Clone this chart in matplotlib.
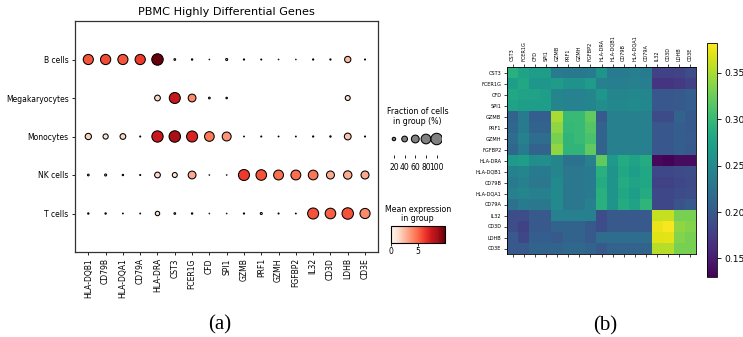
import matplotlib
matplotlib.use("Agg")
import matplotlib.pyplot as plt
import numpy as np

# Panel (a): dot plot data
genes_a = ["HLA-DQB1", "CD79B", "HLA-DQA1", "CD79A", "HLA-DRA", "CST3", "FCER1G",
           "CFD", "SPI1", "GZMB", "PRF1", "GZMH", "FGFBP2", "IL32", "CD3D", "LDHB", "CD3E"]
cell_types = ["B cells", "Megakaryocytes", "Monocytes", "NK cells", "T cells"]

# fraction of cells expressing (0-1), one list per cell type
frac_b = [0.85, 0.86, 0.85, 0.86, 1.00, 0.08, 0.06, 0.02, 0.10, 0.05, 0.04, 0.02, 0.02, 0.05, 0.05, 0.45, 0.04]
frac_mk = [0.0, 0.0, 0.0, 0.0, 0.40, 0.95, 0.60, 0.08, 0.07, 0.0, 0.0, 0.0, 0.0, 0.0, 0.0, 0.33, 0.0]
frac_mono = [0.45, 0.35, 0.40, 0.04, 0.98, 1.00, 0.95, 0.80, 0.72, 0.03, 0.04, 0.03, 0.03, 0.05, 0.06, 0.50, 0.04]
frac_nk = [0.08, 0.10, 0.06, 0.04, 0.40, 0.33, 0.60, 0.02, 0.02, 0.95, 0.90, 0.82, 0.82, 0.80, 0.62, 0.66, 0.62]
frac_t = [0.06, 0.06, 0.03, 0.03, 0.28, 0.08, 0.06, 0.02, 0.02, 0.05, 0.10, 0.04, 0.03, 0.95, 0.90, 1.00, 0.85]

# mean expression in group
expr_b = [5.5, 5.8, 5.5, 6.2, 9.9, 1.0, 1.0, 0.5, 1.2, 0.5, 0.5, 0.3, 0.3, 0.6, 0.6, 2.5, 0.5]
expr_mk = [0.0, 0.0, 0.0, 0.0, 1.5, 7.6, 4.0, 0.8, 0.8, 0.0, 0.0, 0.0, 0.0, 0.0, 0.0, 1.0, 0.0]
expr_mono = [1.8, 1.2, 1.6, 0.4, 7.5, 8.5, 7.0, 4.5, 3.6, 0.4, 0.4, 0.3, 0.3, 0.6, 0.6, 2.2, 0.4]
expr_nk = [0.7, 0.8, 0.6, 0.3, 1.5, 0.9, 3.0, 0.3, 0.2, 6.2, 5.6, 4.8, 4.8, 4.6, 3.0, 3.0, 3.0]
expr_t = [0.6, 0.6, 0.3, 0.3, 1.2, 0.7, 0.6, 0.2, 0.2, 0.4, 0.8, 0.4, 0.3, 5.6, 5.2, 5.6, 4.0]

legend_fracs = [20, 40, 60, 80, 100]

# Panel (b): gene-gene similarity heatmap
genes_b = ["CST3", "FCER1G", "CFD", "SPI1", "GZMB", "PRF1", "GZMH", "FGFBP2", "HLA-DRA",
           "HLA-DQB1", "CD79B", "HLA-DQA1", "CD79A", "IL32", "CD3D", "LDHB", "CD3E"]
corr_values = [
    [0.290, 0.275, 0.270, 0.270, 0.235, 0.232, 0.232, 0.235, 0.260, 0.235, 0.235, 0.238, 0.235, 0.180, 0.180, 0.182, 0.190],
    [0.270, 0.280, 0.262, 0.262, 0.268, 0.258, 0.258, 0.268, 0.240, 0.238, 0.238, 0.240, 0.238, 0.168, 0.168, 0.172, 0.180],
    [0.280, 0.275, 0.275, 0.270, 0.245, 0.242, 0.242, 0.245, 0.262, 0.245, 0.245, 0.248, 0.245, 0.198, 0.198, 0.200, 0.205],
    [0.275, 0.270, 0.270, 0.270, 0.245, 0.242, 0.242, 0.245, 0.255, 0.248, 0.248, 0.250, 0.248, 0.198, 0.198, 0.200, 0.205],
    [0.210, 0.235, 0.205, 0.205, 0.350, 0.300, 0.300, 0.320, 0.200, 0.240, 0.240, 0.240, 0.240, 0.188, 0.188, 0.210, 0.200],
    [0.215, 0.235, 0.210, 0.210, 0.340, 0.298, 0.300, 0.315, 0.210, 0.240, 0.240, 0.240, 0.240, 0.198, 0.198, 0.205, 0.200],
    [0.220, 0.240, 0.220, 0.220, 0.330, 0.295, 0.300, 0.310, 0.210, 0.240, 0.240, 0.240, 0.240, 0.198, 0.198, 0.205, 0.202],
    [0.215, 0.235, 0.210, 0.210, 0.340, 0.295, 0.295, 0.320, 0.210, 0.240, 0.240, 0.240, 0.240, 0.198, 0.198, 0.205, 0.200],
    [0.265, 0.270, 0.255, 0.255, 0.245, 0.225, 0.225, 0.240, 0.320, 0.265, 0.285, 0.275, 0.285, 0.135, 0.132, 0.138, 0.138],
    [0.240, 0.245, 0.235, 0.235, 0.245, 0.230, 0.230, 0.235, 0.290, 0.260, 0.280, 0.270, 0.280, 0.185, 0.185, 0.188, 0.190],
    [0.235, 0.240, 0.230, 0.230, 0.250, 0.230, 0.230, 0.235, 0.285, 0.260, 0.285, 0.275, 0.280, 0.180, 0.180, 0.185, 0.188],
    [0.240, 0.245, 0.240, 0.240, 0.250, 0.230, 0.230, 0.235, 0.290, 0.260, 0.280, 0.270, 0.285, 0.185, 0.185, 0.188, 0.190],
    [0.225, 0.235, 0.230, 0.230, 0.250, 0.230, 0.230, 0.240, 0.290, 0.260, 0.285, 0.275, 0.295, 0.185, 0.185, 0.195, 0.200],
    [0.190, 0.190, 0.200, 0.200, 0.240, 0.240, 0.240, 0.240, 0.190, 0.200, 0.200, 0.200, 0.200, 0.360, 0.360, 0.330, 0.330],
    [0.190, 0.180, 0.200, 0.200, 0.210, 0.210, 0.210, 0.200, 0.190, 0.200, 0.200, 0.200, 0.200, 0.375, 0.380, 0.340, 0.335],
    [0.200, 0.185, 0.205, 0.205, 0.200, 0.210, 0.210, 0.200, 0.220, 0.220, 0.220, 0.220, 0.220, 0.370, 0.372, 0.335, 0.330],
    [0.200, 0.200, 0.210, 0.210, 0.210, 0.215, 0.215, 0.210, 0.200, 0.210, 0.210, 0.210, 0.210, 0.355, 0.355, 0.330, 0.330],
]

W, H = 743, 337
fig = plt.figure(figsize=(W / 100, H / 100), dpi=100)


def box(x0, y0, x1, y1):
    # pixel box (top-left origin) -> figure fraction rect
    return [x0 / W, 1 - y1 / H, (x1 - x0) / W, (y1 - y0) / H]


def dot_size(f):
    return (np.asarray(f, dtype=float) ** 1.5) * 68


# ---- (a) dot plot ----
ax = fig.add_axes(box(75, 21, 378, 252))
frac_all = [frac_b, frac_mk, frac_mono, frac_nk, frac_t]
expr_all = [expr_b, expr_mk, expr_mono, expr_nk, expr_t]
xs = np.arange(len(genes_a))
for row, (fr, ex) in enumerate(zip(frac_all, expr_all)):
    fr = np.array(fr)
    ex = np.array(ex)
    keep = fr > 0
    ax.scatter(xs[keep], np.full(keep.sum(), row), s=dot_size(fr[keep]), c=ex[keep],
               cmap="Reds", vmin=0, vmax=9.9, edgecolors="black", linewidths=0.75, zorder=3)
ax.set_xlim(-0.77, len(genes_a) - 0.25)
ax.set_ylim(len(cell_types), -1)
ax.set_xticks(xs)
ax.set_xticklabels(genes_a, rotation=90, fontsize=5.5)
ax.set_yticks(range(len(cell_types)))
ax.set_yticklabels(cell_types, fontsize=5.5)
ax.tick_params(length=2.5, width=0.6, pad=2)
for sp in ax.spines.values():
    sp.set_linewidth(0.9)
    sp.set_color("#333333")
ax.set_title("PBMC Highly Differential Genes", fontsize=8.1, pad=4)

# size legend
fig.text(417.7 / W, 1 - 116.5 / H, "Fraction of cells\nin group (%)", ha="center",
         va="center", fontsize=5.7, linespacing=1.1)
lax = fig.add_axes(box(388.6, 123, 442, 155))
lx = np.arange(len(legend_fracs))
lax.scatter(lx, np.full(len(lx), 0.5), s=dot_size(np.array(legend_fracs) / 100),
            color="gray", edgecolors="black", linewidths=0.75)
lax.set_xlim(-0.5, len(lx) - 0.5)
lax.set_ylim(0, 1)
lax.set_xticks(lx)
lax.set_xticklabels([str(v) for v in legend_fracs], fontsize=5.5)
lax.set_yticks([])
lax.tick_params(axis="x", length=2, width=0.6, pad=4)
for sp in lax.spines.values():
    sp.set_visible(False)

# color legend
fig.text(417.7 / W, 1 - 214 / H, "Mean expression\nin group", ha="center",
         va="center", fontsize=5.7, linespacing=1.1)
cax = fig.add_axes(box(390.7, 226, 444.7, 243))
sm = plt.cm.ScalarMappable(cmap="Reds", norm=plt.Normalize(0, 9.9))
cb = fig.colorbar(sm, cax=cax, orientation="horizontal", ticks=[0, 5])
cb.ax.tick_params(labelsize=5.5, length=2, width=0.6, pad=1)
cb.outline.set_linewidth(0.8)

fig.text(220 / W, 1 - 325 / H, "(a)", ha="center", va="center", fontsize=15,
         family="Liberation Serif")

# ---- (b) heatmap ----
hax = fig.add_axes(box(507, 67, 696, 254))
im = hax.imshow(np.array(corr_values), cmap="viridis", vmin=0.13, vmax=0.382,
                aspect="auto", interpolation="nearest")
n = len(genes_b)
hax.set_yticks(range(n))
hax.set_yticklabels(genes_b, fontsize=3.6)
hax.set_xticks(range(n))
hax.set_xticklabels(genes_b, fontsize=3.6, rotation=90)
hax.tick_params(axis="x", top=True, labeltop=True, bottom=True, labelbottom=False,
                length=2.5, width=0.5, pad=1.5)
hax.tick_params(axis="y", length=2.5, width=0.5, pad=1.5)
for sp in hax.spines.values():
    sp.set_linewidth(0.6)

hcax = fig.add_axes(box(707, 43, 717, 277))
hcb = fig.colorbar(im, cax=hcax, ticks=[0.15, 0.20, 0.25, 0.30, 0.35])
hcb.ax.set_yticklabels(["0.15", "0.20", "0.25", "0.30", "0.35"])
hcb.ax.tick_params(labelsize=6.6, length=3, width=0.6, pad=2)
hcb.outline.set_linewidth(0.6)

fig.text(605 / W, 1 - 326 / H, "(b)", ha="center", va="center", fontsize=15,
         family="Liberation Serif")

fig.savefig("out.png", dpi=100)
